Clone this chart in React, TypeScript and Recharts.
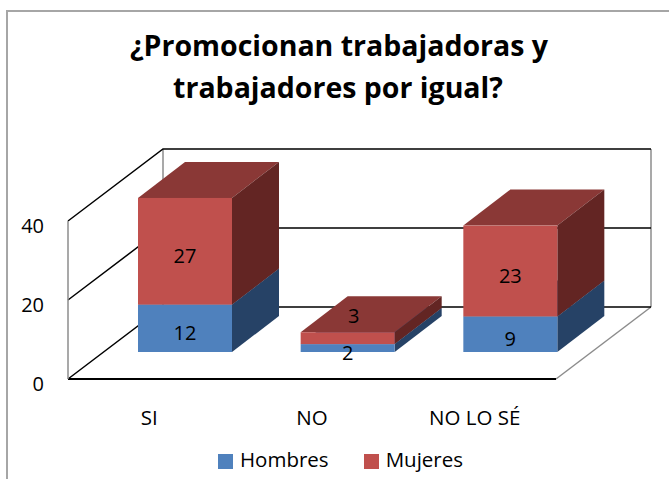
import React from "react";
import { BarChart, Bar, XAxis, YAxis, Legend, LabelList, ReferenceArea, ReferenceLine } from "recharts";

const categories = ["SI", "NO", "NO LO SÉ"];
const hombres = [12, 2, 9];
const mujeres = [27, 3, 23];
const yTicks = [0, 20, 40];
const titleLines = ["¿Promocionan trabajadoras y", "trabajadores por igual?"];

const data = categories.map((name, i) => ({ name, Hombres: hombres[i], Mujeres: mujeres[i] }));

const FONT = "'Open Sans', Lato, sans-serif";
const WALL = { dx: 95, dy: -72 };
const BAR_SHIFT = { dx: 36, dy: -27 };
const BAR_DEPTH = { dx: 47, dy: -36 };
const GREY = "#8c8c8c";

const makeBox = (top: string, side: string) => (p: any) => {
  const x = p.x + BAR_SHIFT.dx;
  const y = p.y + BAR_SHIFT.dy;
  const w = p.width;
  const h = p.height;
  const { dx, dy } = BAR_DEPTH;
  return (
    <g>
      <polygon points={`${x},${y} ${x + dx},${y + dy} ${x + w + dx},${y + dy} ${x + w},${y}`} fill={top} />
      <polygon points={`${x + w},${y} ${x + w + dx},${y + dy} ${x + w + dx},${y + h + dy} ${x + w},${y + h}`} fill={side} />
      <rect x={x} y={y} width={w} height={h} fill={p.fill} />
    </g>
  );
};

const makeLabel = (raised: boolean) => (p: any) => {
  const small = p.height < 15;
  const cx = p.x + p.width / 2 + BAR_SHIFT.dx + (small ? (raised ? 6 : 0) : 0);
  const cy = p.y + p.height / 2 + BAR_SHIFT.dy + (small && raised ? -23 : 4);
  return (
    <text x={cx} y={cy} textAnchor="middle" dominantBaseline="central" fontSize={20} fontFamily={FONT} fill="#000">
      {p.value}
    </text>
  );
};

const GridLevel = (p: any) => {
  const { x1, y1, x2, y2 } = p;
  const { dx, dy } = WALL;
  return (
    <polyline
      points={`${x1},${y1} ${x1 + dx},${y1 + dy} ${x2 + dx},${y2 + dy}`}
      fill="none"
      stroke="#000"
      strokeWidth={1.5}
    />
  );
};

const Walls = (p: any) => {
  const { x, y, width, height } = p;
  const { dx, dy } = WALL;
  const bottom = y + height;
  return (
    <g stroke={GREY} strokeWidth={1.5} fill="none">
      <line x1={x + dx} y1={y + dy} x2={x + dx} y2={bottom + dy} />
      <line x1={x + width + dx} y1={y + dy} x2={x + width + dx} y2={bottom + dy} />
      <line x1={x + width} y1={bottom} x2={x + width + dx} y2={bottom + dy} />
    </g>
  );
};

export default function App() {
  return (
    <div style={{ position: "absolute", left: 0, top: 0, width: 669, height: 479, overflow: "hidden", background: "#fff" }}>
      <div style={{ position: "absolute", left: 6, top: 10, width: 800, height: 600, borderLeft: "2px solid #a6a6a6", borderTop: "2px solid #a6a6a6" }} />
      <div style={{ position: "absolute", left: 0, top: 0 }}>
        <BarChart
          width={669}
          height={479}
          data={data}
          barSize={94}
          margin={{ top: 221, right: 113, bottom: 10, left: 8 }}
        >
          <ReferenceArea y1={0} y2={40} shape={Walls} fill="none" stroke="none" zIndex={40} />
          {yTicks.map((t) => (
            <ReferenceLine key={t} y={t} shape={GridLevel} zIndex={50} />
          ))}
          <XAxis
            dataKey="name"
            height={50}
            tickLine={false}
            axisLine={{ stroke: "#000", strokeWidth: 2 }}
            tickMargin={25}
            tick={{ fontSize: 20.5, fontFamily: FONT, fill: "#000" }}
            interval={0}
          />
          <YAxis
            width={60}
            domain={[0, 40]}
            ticks={yTicks}
            tickLine={false}
            axisLine={{ stroke: GREY, strokeWidth: 1.5 }}
            tickMargin={18}
            tick={{ fontSize: 20, fontFamily: FONT, fill: "#000", dy: 5 }}
          />
          <Legend
            verticalAlign="bottom"
            align="left"
            iconType="square"
            iconSize={15}
            height={40}
            wrapperStyle={{ fontFamily: FONT, fontSize: 20.5, color: "#000", left: 218, top: 445, width: 300, textAlign: "left" }}
            formatter={(v: string) => <span style={{ color: "#000", marginLeft: 3, marginRight: 25 }}>{v}</span>}
          />
          <Bar dataKey="Hombres" stackId="a" fill="#4F81BD" isAnimationActive={false} shape={makeBox("#3A5F8C", "#264266")}>
            <LabelList dataKey="Hombres" content={makeLabel(false)} />
          </Bar>
          <Bar dataKey="Mujeres" stackId="a" fill="#C0504D" isAnimationActive={false} shape={makeBox("#8A3836", "#632523")}>
            <LabelList dataKey="Mujeres" content={makeLabel(true)} />
          </Bar>
          <text textAnchor="middle" fontFamily={FONT} fontWeight={700} fontSize={28.5} fill="#000">
            <tspan x={339} y={56}>{titleLines[0]}</tspan>
            <tspan x={338} y={98}>{titleLines[1]}</tspan>
          </text>
        </BarChart>
      </div>
    </div>
  );
}
